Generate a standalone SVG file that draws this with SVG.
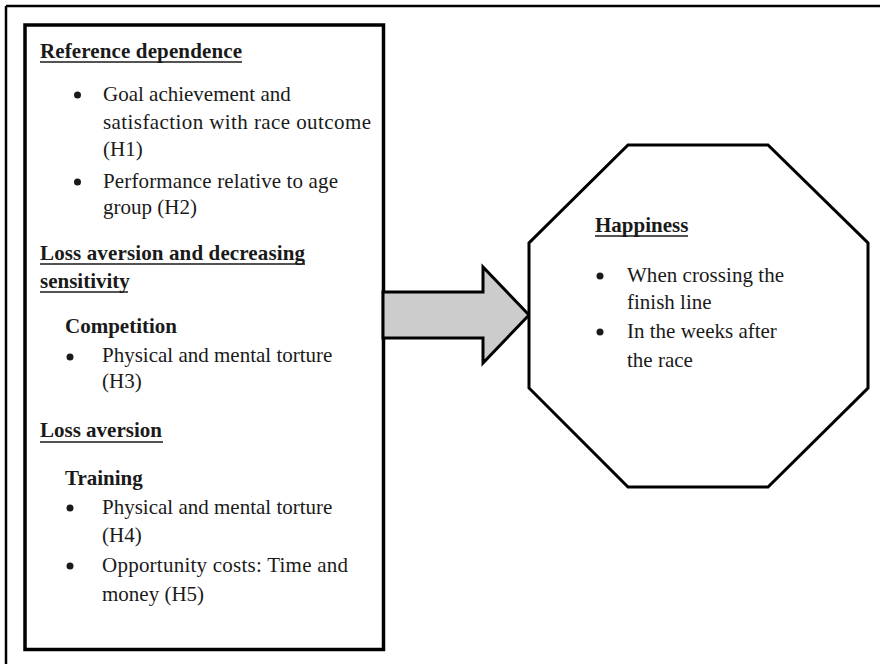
<svg xmlns="http://www.w3.org/2000/svg" width="880" height="664" viewBox="0 0 880 664">
<style>
text{font-family:"Liberation Serif","Times New Roman",serif;font-size:21px;fill:#1a1a1a}
.b{font-weight:bold}
.u{stroke:#1a1a1a;stroke-width:1.6}
.shape{fill:#fff;stroke:#000;stroke-width:3}
</style>
<rect width="880" height="664" fill="#fff"/>
<g id="frame">
<line x1="6" y1="6" x2="880" y2="6" stroke="#000" stroke-width="2.5"/>
<line x1="6" y1="6" x2="6" y2="664" stroke="#000" stroke-width="2.5"/>
</g>
<g id="factors">
<rect x="25" y="25" width="358.5" height="624.5" fill="#fff" stroke="#000" stroke-width="3.5"/>
<text class="b" x="40" y="58" textLength="202">Reference dependence</text>
<line class="u" x1="40" y1="62" x2="242" y2="62"/>
<circle cx="77.5" cy="95" r="3.5" fill="#1a1a1a"/>
<text x="103" y="101">Goal achievement and</text>
<text x="103" y="129" textLength="268">satisfaction with race outcome</text>
<text x="103" y="156">(H1)</text>
<circle cx="77.5" cy="182" r="3.5" fill="#1a1a1a"/>
<text x="103" y="188" textLength="235">Performance relative to age</text>
<text x="103" y="214">group (H2)</text>
<text class="b" x="40" y="260" textLength="265">Loss aversion and decreasing</text>
<line class="u" x1="40" y1="264" x2="305" y2="264"/>
<text class="b" x="40" y="288">sensitivity</text>
<line class="u" x1="40" y1="292" x2="128" y2="292"/>
<text class="b" x="65" y="333">Competition</text>
<circle cx="70" cy="357" r="3.5" fill="#1a1a1a"/>
<text x="102" y="362">Physical and mental torture</text>
<text x="102" y="388">(H3)</text>
<text class="b" x="40" y="437">Loss aversion</text>
<line class="u" x1="40" y1="442" x2="163" y2="442"/>
<text class="b" x="65" y="485">Training</text>
<circle cx="70" cy="508" r="3.5" fill="#1a1a1a"/>
<text x="102" y="514">Physical and mental torture</text>
<text x="102" y="542">(H4)</text>
<circle cx="70" cy="566" r="3.5" fill="#1a1a1a"/>
<text x="102" y="572" textLength="246">Opportunity costs: Time and</text>
<text x="102" y="601">money (H5)</text>
</g>
<g id="connectors">
<polygon points="383,292 483,292 483,267 529,315 483,363 483,338 383,338" fill="#cccccc" stroke="#000" stroke-width="3" stroke-linejoin="miter"/>
</g>
<g id="happiness">
<polygon class="shape" points="628,145 768,145 868,243 868,388 768,487 628,487 529,388 529,243"/>
<text class="b" x="595" y="232">Happiness</text>
<line class="u" x1="595" y1="236" x2="688" y2="236"/>
<circle cx="600" cy="276" r="3.5" fill="#1a1a1a"/>
<text x="627" y="282" textLength="157">When crossing the</text>
<text x="627" y="309">finish line</text>
<circle cx="600" cy="332" r="3.5" fill="#1a1a1a"/>
<text x="627" y="338">In the weeks after</text>
<text x="627" y="367">the race</text>
</g>
</svg>
